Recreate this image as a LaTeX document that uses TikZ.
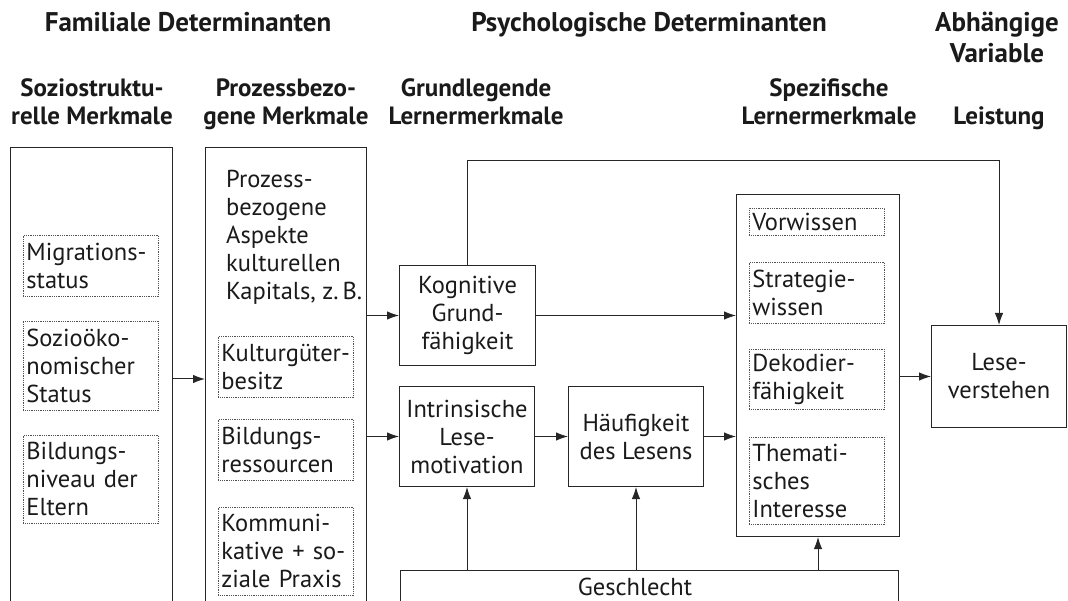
\documentclass[tikz,border=0pt]{standalone}
\usepackage{fontspec}
\setmainfont{PT Sans}
\usetikzlibrary{arrows.meta}
\definecolor{ink}{HTML}{1A1A1A}
\definecolor{linec}{HTML}{262626}
\definecolor{dotc}{HTML}{505050}
\newcommand{\bodyfont}{\fontsize{24.5}{28}\selectfont}
\newcommand{\headfont}{\fontsize{25}{30}\selectfont\bfseries}
\newcommand{\topfont}{\fontsize{27}{30}\selectfont\bfseries}
\tikzset{
  box/.style={draw=linec, line width=1pt, rectangle, inner sep=0pt, anchor=north west,
    text=ink, font=\bodyfont, align=center},
  dotbox/.style={draw=dotc, line width=0.8pt, densely dotted, rectangle, anchor=north west,
    align=left, inner xsep=3pt, inner ysep=0pt, font=\bodyfont, text=ink,
    minimum width=135pt, text width=129pt},
  head/.style={anchor=base, font=\headfont, text=ink, inner sep=0pt},
  tophead/.style={anchor=base, font=\topfont, text=ink, inner sep=0pt},
  arr/.style={-{Latex[length=12pt,width=8.5pt]}, line width=1pt, draw=linec},
}
\begin{document}
\begin{tikzpicture}[x=1pt,y=-1pt]
\useasboundingbox (0,0) rectangle (1068,601);
\clip (0,0) rectangle (1068,601);

% column headings
\node[tophead] (hfam) at (188,32) {Familiale Determinanten};
\node[tophead] (hpsy) at (649,32) {Psychologische Determinanten};
\node[tophead] (habh1) at (997,32) {Abhängige};
\node[tophead] (habh2) at (997,63) {Variable};
\node[head] (hs1) at (92,97) {Soziostruktu-};
\node[head] (hs2) at (92,125) {relle Merkmale};
\node[head] (hp1) at (286,97) {Prozessbezo-};
\node[head] (hp2) at (286,125) {gene Merkmale};
\node[head] (hg1) at (476,97) {Grundlegende};
\node[head] (hg2) at (476,125) {Lernermerkmale};
\node[head] (hz1) at (829,97) {Spezifische};
\node[head] (hz2) at (829,125) {Lernermerkmale};
\node[head] (hl) at (999,125) {Leistung};

% family determinants
\node[box, minimum width=162pt, minimum height=463pt] (sozio) at (10,147) {};
\node[dotbox, minimum height=61pt] (mig) at (23,235) {Migrations-\\status};
\node[dotbox, minimum height=89pt] (ses) at (23,321) {Sozioöko-\\nomischer\\Status};
\node[dotbox, minimum height=88pt] (bil) at (23,435) {Bildungs-\\niveau der\\Eltern};

\node[box, minimum width=161pt, minimum height=463pt] (proz) at (205,147) {};
\node[anchor=north west, font=\bodyfont, text=ink, align=left, inner sep=0pt] (ptext) at (226,170)
  {Prozess-\\bezogene\\Aspekte\\kulturellen\\Kapitals, z.\,B.};
\node[dotbox, minimum height=61pt] (kult) at (218,336) {Kulturgüter-\\besitz};
\node[dotbox, minimum height=61pt] (res) at (218,419) {Bildungs-\\ressourcen};
\node[dotbox, minimum height=88pt] (kom) at (218,507) {Kommuni-\\kative + so-\\ziale Praxis};

% basic learner characteristics
\node[box, minimum width=136pt, minimum height=100pt] (kog) at (399,265) {Kognitive\\Grund-\\fähigkeit};
\node[box, minimum width=135pt, minimum height=100pt] (intr) at (399,386) {Intrinsische\\Lese-\\motivation};
\node[box, minimum width=135pt, minimum height=100pt] (haeuf) at (568,386) {Häufigkeit\\des Lesens};

% specific learner characteristics
\node[box, minimum width=163pt, minimum height=342pt] (spez) at (736,194) {};
\node[dotbox, minimum height=27pt] (vor) at (749,208) {Vorwissen};
\node[dotbox, minimum height=61pt] (strat) at (749,262) {Strategie-\\wissen};
\node[dotbox, minimum height=60pt] (dek) at (749,349) {Dekodier-\\fähigkeit};
\node[dotbox, minimum height=87pt] (them) at (749,437) {Themati-\\sches\\Interesse};

% outcome
\node[box, minimum width=135pt, minimum height=102pt] (lese) at (931,325) {Lese-\\verstehen};

% gender
\node[box, minimum width=498pt, minimum height=60pt] (gesch) at (400,570) {};
\node[anchor=base, font=\bodyfont, text=ink, inner sep=0pt] (gtext) at (635,595) {Geschlecht};

% connectors
\draw[arr] (sozio.east) -- (proz.west |- sozio.east);
\draw[arr] (proz.east |- kog.west) -- (kog.west);
\draw[arr] (proz.east |- intr.west) -- (intr.west);
\draw[arr] (kog.east) -- (spez.west |- kog.east);
\draw[arr] (intr.east) -- (haeuf.west);
\draw[arr] (haeuf.east) -- (spez.west |- haeuf.east);
\draw[arr] (spez.east |- lese.west) -- (lese.west);
\coordinate (top) at (0,161);
\draw[arr] (kog.north) -- (kog.north |- top) -| (lese.north);
\draw[arr] (gesch.north -| intr.south) -- (intr.south);
\draw[arr] (gesch.north -| haeuf.south) -- (haeuf.south);
\draw[arr] (gesch.north -| spez.south) -- (spez.south);
\end{tikzpicture}
\end{document}
